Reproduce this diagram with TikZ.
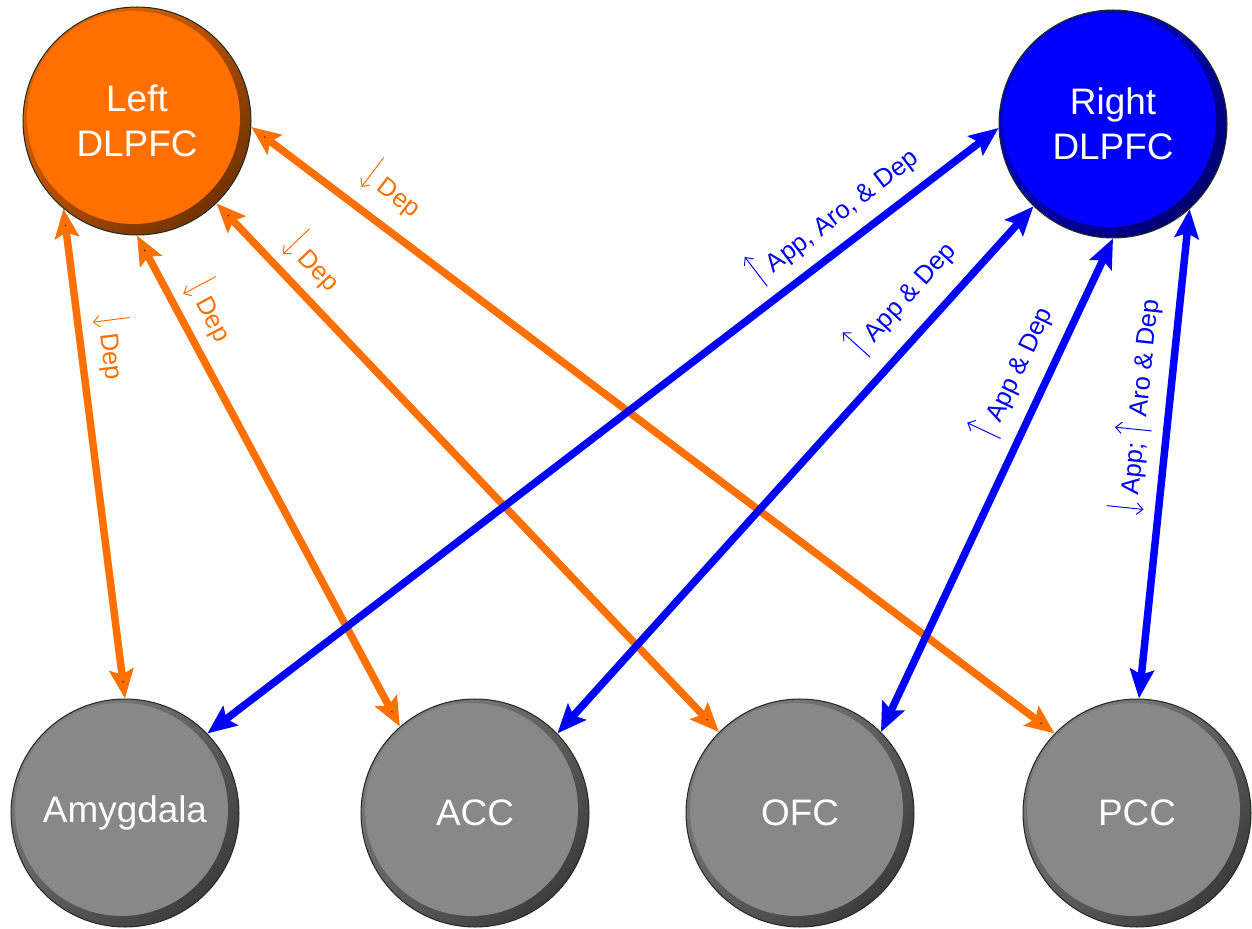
\documentclass[tikz,border=0pt]{standalone}
\usepackage{fontspec}
\setmainfont{Liberation Sans}
\usetikzlibrary{arrows.meta}

\definecolor{lobeorange}{HTML}{FF7000}
\definecolor{lobeblue}{HTML}{0000FF}
\definecolor{lobegray}{HTML}{888888}
\definecolor{rimline}{HTML}{1F2F1F}

\newcommand{\lobefont}{\fontsize{21}{25.5}\selectfont}
\newcommand{\tagfont}{\fontsize{14.5}{17}\selectfont}
% thin tall arrows used inside the connector labels
\newcommand{\incr}{\tikz[baseline=0pt]\draw[line width=0.55pt, -{Straight Barb[length=3.5pt,width=6.5pt]}] (0,-0.25em) -- (0,1.2em);}
\newcommand{\decr}{\tikz[baseline=0pt]\draw[line width=0.55pt, -{Straight Barb[length=3.5pt,width=6.5pt]}] (0,1.2em) -- (0,-0.25em);}

\begin{document}
\begin{tikzpicture}[
  x=0.02cm, y=-0.02cm,
  >={Stealth[length=0.58cm,width=0.48cm,inset=0.1cm]},
  lobe/.style n args={3}{
    circle, minimum size=4.56cm, inner sep=0pt, draw=rimline, line width=0.6pt,
    top color=#2, bottom color=#3, shading angle=45,
    text=white, font=\lobefont, align=center,
    path picture={\fill[#1] ([shift={(-0.07cm,0.07cm)}]path picture bounding box.center) circle (2.13cm);}
  },
  leftlobe/.style={lobe={lobeorange}{lobeorange!90!black}{lobeorange!45!black}},
  rightlobe/.style={lobe={lobeblue}{lobeblue!85!black}{lobeblue!45!black}},
  target/.style={lobe={lobegray}{lobegray!92!black}{lobegray!45!black}},
  link/.style={<->, line width=0.15cm},
  orangelink/.style={link, draw=lobeorange},
  bluelink/.style={link, draw=lobeblue},
  tag/.style={sloped, font=\tagfont, inner sep=1pt},
]

\useasboundingbox (0,0) rectangle (1252,929);

%% Prefrontal nodes (top)
\node[leftlobe]  (ldlpfc) at (137,121)  {Left\\DLPFC};
\node[rightlobe] (rdlpfc) at (1113,124) {Right\\DLPFC};

%% Target regions (bottom row)
\node[target] (amy) at (125,813)  {Amygdala};
\node[target] (acc) at (475,813)  {ACC};
\node[target] (ofc) at (800,813)  {OFC};
\node[target] (pcc) at (1137,813) {PCC};

%% Left DLPFC connections
\draw[orangelink] (ldlpfc.230) -- node[tag, text=lobeorange, pos=0.29, above=7pt]{\decr\ Dep} (amy.90);
\draw[orangelink] (ldlpfc.270) -- node[tag, text=lobeorange, pos=0.18, above=6pt]{\decr\ Dep} (acc.131);
\draw[orangelink] (ldlpfc.314) -- node[tag, text=lobeorange, pos=0.15, above=6pt]{\decr\ Dep} (ofc.135);
\draw[orangelink] (ldlpfc.357) -- node[tag, text=lobeorange, pos=0.15, above=9pt]{\decr\ Dep} (pcc.136);

%% Right DLPFC connections
\draw[bluelink] (amy.44) -- node[tag, text=lobeblue, pos=0.815, above=7pt]{\incr\ App, Aro, \& Dep} (rdlpfc.182);
\draw[bluelink] (acc.44) -- node[tag, text=lobeblue, pos=0.78, above=10pt]{\incr\ App \& Dep} (rdlpfc.226);
\draw[bluelink] (ofc.45) -- node[tag, text=lobeblue, pos=0.70, above=8pt]{\incr\ App \& Dep} (rdlpfc.270);
\draw[bluelink] (pcc.89) -- node[tag, text=lobeblue, pos=0.59, above=7pt]{\decr\ App; \incr\ Aro \& Dep} (rdlpfc.312);

\end{tikzpicture}
\end{document}
